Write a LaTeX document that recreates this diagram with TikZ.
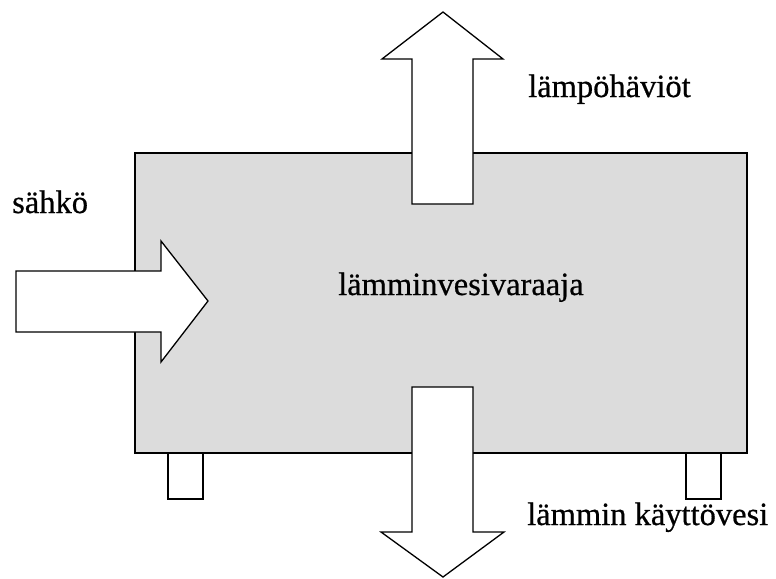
\documentclass[tikz,border=0pt]{standalone}
\usepackage{fontspec}
\setmainfont{Liberation Serif}[FakeBold=0.6]
\definecolor{tankgray}{HTML}{DCDCDC}
\begin{document}
\begin{tikzpicture}[x=1pt,y=-1pt,
  outl/.style={draw=black,line width=1.3pt,line join=miter},
  lbl/.style={anchor=base west,inner sep=0pt,font=\fontsize{32.5}{36}\selectfont}]
\useasboundingbox (0,0) rectangle (776,578);
% tank
\filldraw[outl,fill=tankgray] (135,153) rectangle (747,453);
% legs
\draw[outl,fill=white] (168,453) rectangle (203,499);
\draw[outl,fill=white] (686,453) rectangle (721,499);
% top arrow (lämpöhäviöt)
\filldraw[outl,fill=white] (412,204) -- (412,59) -- (382,59) -- (443,12) -- (503,59) -- (473,59) -- (473,204) -- cycle;
% left arrow (sähkö)
\filldraw[outl,fill=white] (16,271) -- (161,271) -- (161,241) -- (208,301) -- (161,362) -- (161,332) -- (16,332) -- cycle;
% bottom arrow (lämmin käyttövesi)
\filldraw[outl,fill=white] (412,387) -- (473,387) -- (473,532) -- (504,532) -- (443,577) -- (381,532) -- (412,532) -- cycle;
% labels
\node[lbl] (sahko) at (12,213) {sähkö};
\node[lbl] (havio) at (528,97) {lämpöhäviöt};
\node[lbl] (varaaja) at (338,295) {lämminvesivaraaja};
\node[lbl] (kayttovesi) at (527,525) {lämmin käyttövesi};
\end{tikzpicture}
\end{document}
